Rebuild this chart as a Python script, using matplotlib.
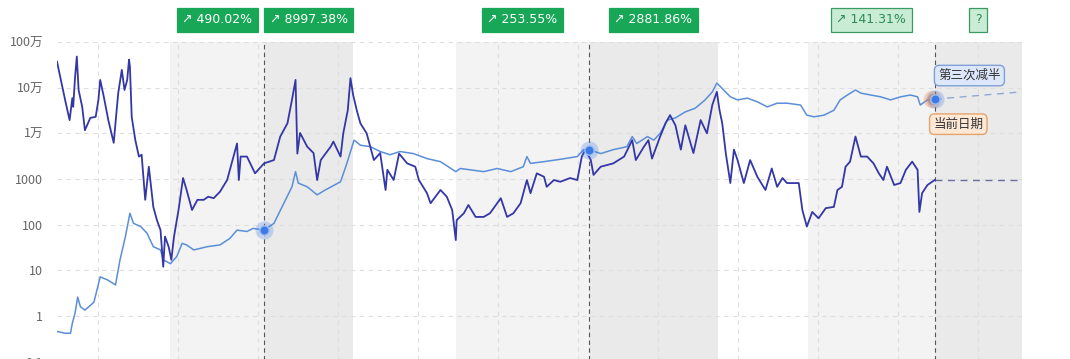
import numpy as np
import matplotlib
matplotlib.use("Agg")
import matplotlib.pyplot as plt
from matplotlib.ticker import FixedLocator

plt.rcParams['font.family'] = ['Noto Sans CJK SC', 'DejaVu Sans']

# ---------------- data ----------------
ratio_years = [2010.61, 2010.70, 2010.75, 2010.78, 2010.79, 2010.81, 2010.83, 2010.85, 2010.89, 2010.92,
               2010.98, 2011.04, 2011.07, 2011.09, 2011.13, 2011.18, 2011.24, 2011.29, 2011.33, 2011.36,
               2011.39, 2011.41, 2011.42, 2011.44, 2011.48, 2011.52, 2011.55, 2011.59, 2011.63, 2011.68,
               2011.72, 2011.76, 2011.79, 2011.81, 2011.85, 2011.88, 2011.91, 2011.96, 2012.01, 2012.05,
               2012.11, 2012.17, 2012.24, 2012.29, 2012.35, 2012.42, 2012.50, 2012.55, 2012.61, 2012.63,
               2012.65, 2012.72, 2012.81, 2012.91, 2013.02, 2013.09, 2013.17, 2013.22, 2013.26, 2013.28,
               2013.31, 2013.39, 2013.46, 2013.50, 2013.54, 2013.65, 2013.68, 2013.76, 2013.79, 2013.84,
               2013.87, 2013.90, 2013.94, 2013.98, 2014.05, 2014.13, 2014.20, 2014.26, 2014.28, 2014.35,
               2014.41, 2014.50, 2014.59, 2014.63, 2014.72, 2014.76, 2014.87, 2014.94, 2015.00, 2015.04,
               2015.05, 2015.13, 2015.18, 2015.26, 2015.35, 2015.42, 2015.54, 2015.61, 2015.68, 2015.76,
               2015.83, 2015.87, 2015.94, 2016.02, 2016.05, 2016.13, 2016.20, 2016.31, 2016.39, 2016.44,
               2016.48, 2016.52, 2016.54, 2016.57, 2016.65, 2016.79, 2016.91, 2017.00, 2017.04, 2017.13,
               2017.18, 2017.22, 2017.31, 2017.37, 2017.42, 2017.48, 2017.54, 2017.59, 2017.68, 2017.76,
               2017.83, 2017.89, 2017.94, 2017.97, 2018.00, 2018.04, 2018.09, 2018.13, 2018.17, 2018.24,
               2018.31, 2018.39, 2018.48, 2018.55, 2018.61, 2018.67, 2018.72, 2018.85, 2018.89, 2018.94,
               2019.00, 2019.07, 2019.15, 2019.24, 2019.28, 2019.33, 2019.37, 2019.42, 2019.48, 2019.54,
               2019.61, 2019.68, 2019.74, 2019.79, 2019.83, 2019.91, 2019.98, 2020.04, 2020.11, 2020.17,
               2020.19, 2020.22, 2020.28, 2020.36]
ratio_values = [370000, 54000, 19500, 59000, 38000, 162000, 480000, 89000, 38000, 11700,
                21800, 23000, 54000, 148000, 63000, 19500, 6200, 76000, 245000, 89000,
                148000, 410000, 290000, 23000, 7100, 3100, 3400, 350, 1860, 245,
                126, 76, 12, 55, 33, 17, 55, 210, 1050, 575,
                210, 350, 350, 410, 380, 525, 950, 2200, 6000, 950,
                3100, 3100, 1330, 2200, 2600, 8500, 16600, 54000, 148000, 3600,
                10200, 5100, 3700, 950, 2600, 5100, 6600, 3100, 10000, 32000,
                162000, 69000, 32000, 16600, 10000, 2600, 3700, 575, 1590, 950,
                3600, 2200, 1860, 950, 490, 295, 575, 410, 210, 46,
                126, 178, 270, 148, 148, 178, 380, 148, 178, 295,
                950, 490, 1330, 1120, 675, 950, 870, 1050, 950, 3100,
                4400, 3100, 2600, 1230, 1860, 2200, 3100, 7100, 2600, 5100,
                7100, 2800, 8500, 16600, 25000, 15000, 4400, 15000, 3700, 19500,
                10000, 42000, 81000, 32000, 16600, 3600, 815, 4400, 2600, 815,
                2600, 1120, 575, 1700, 675, 1050, 815, 815, 210, 91,
                190, 138, 230, 245, 575, 675, 1860, 2400, 8500, 3100,
                3100, 2200, 1330, 950, 1860, 740, 815, 1590, 2400, 1590,
                190, 490, 740, 950]

price_years = [2010.61, 2010.70, 2010.76, 2010.78, 2010.81, 2010.84, 2010.87, 2010.92, 2011.02, 2011.09,
               2011.17, 2011.26, 2011.31, 2011.37, 2011.42, 2011.46, 2011.54, 2011.61, 2011.68, 2011.76,
               2011.79, 2011.87, 2011.94, 2012.00, 2012.05, 2012.13, 2012.28, 2012.42, 2012.53, 2012.61,
               2012.72, 2012.79, 2012.91, 2013.02, 2013.13, 2013.22, 2013.26, 2013.29, 2013.39, 2013.50,
               2013.59, 2013.76, 2013.83, 2013.91, 2013.98, 2014.09, 2014.20, 2014.31, 2014.42, 2014.57,
               2014.72, 2014.87, 2015.04, 2015.09, 2015.20, 2015.35, 2015.50, 2015.65, 2015.79, 2015.83,
               2015.87, 2016.02, 2016.20, 2016.39, 2016.46, 2016.52, 2016.65, 2016.79, 2016.94, 2017.00,
               2017.05, 2017.17, 2017.24, 2017.31, 2017.39, 2017.48, 2017.59, 2017.70, 2017.81, 2017.89,
               2017.94, 2017.98, 2018.09, 2018.17, 2018.28, 2018.39, 2018.50, 2018.61, 2018.72, 2018.87,
               2018.94, 2019.02, 2019.13, 2019.24, 2019.31, 2019.39, 2019.48, 2019.54, 2019.65, 2019.76,
               2019.87, 2019.98, 2020.09, 2020.17, 2020.20, 2020.28, 2020.36]
price_values = [0.46, 0.42, 0.42, 0.69, 1.15, 2.6, 1.6, 1.35, 2.0, 7.2,
                6.2, 4.8, 17, 55, 178, 107, 91, 65, 33, 28,
                17, 14, 20, 39, 36, 28, 33, 36, 50, 76,
                71, 83, 76, 107, 295, 675, 1450, 815, 675, 450,
                575, 870, 2200, 7100, 5500, 5100, 4000, 3400, 4000, 3600,
                2800, 2400, 1450, 1700, 1590, 1450, 1700, 1450, 1860, 3100,
                2200, 2400, 2700, 3100, 4400, 4400, 3600, 4400, 5100, 8500,
                6000, 8500, 7100, 10000, 19500, 21800, 29500, 35500, 54000, 81000,
                126000, 105000, 63000, 54000, 59000, 49000, 38000, 45700, 45700, 41700,
                25000, 23000, 25000, 32000, 54000, 69000, 89000, 76000, 69000, 63000,
                54000, 63000, 69000, 63000, 41700, 54000, 56000]

halving_years = [2012.91, 2016.52, 2020.36]
halving_prices = [76, 4400, 56000]
projection_end_year = 2021.33
projection_price_end = 81000
projection_ratio = 950

pre_periods = [(2011.87, 2012.91), (2015.04, 2016.52), (2018.95, 2020.36)]
post_periods = [(2012.91, 2013.90), (2016.52, 2017.95), (2020.36, 2021.33)]
pre_labels = ["490.02%", "253.55%", "141.31%"]
post_labels = ["8997.38%", "2881.86%", "?"]

ytick_vals = [0.1, 1, 10, 100, 1000, 1e4, 1e5, 1e6]
ytick_labels = ["0.1", "1", "10", "100", "1000", "1万", "10万", "100万"]

# ---------------- figure ----------------
W, H = 1070, 359
fig = plt.figure(figsize=(W / 100, H / 100), dpi=100)
left, right, top, bottom = 57, 1022, 42, 361.7
ax = fig.add_axes([left / W, (H - bottom) / H, (right - left) / W, (bottom - top) / H])
ax.set_yscale('log')
ax.set_ylim(0.1, 1e6)
ax.set_xlim(2010.61, 2021.33)

for s in ax.spines.values():
    s.set_visible(False)

# shading
for a, b in pre_periods:
    ax.axvspan(a, b, color='#f3f3f3', zorder=0, lw=0)
for a, b in post_periods:
    ax.axvspan(a, b, color='#eaeaea', zorder=0, lw=0)

# grids
ax.yaxis.set_major_locator(FixedLocator(ytick_vals))
ax.yaxis.set_minor_locator(FixedLocator([]))
ax.set_yticklabels(ytick_labels)
ax.tick_params(axis='y', length=0, pad=10, labelsize=9, labelcolor='#666666')
ax.tick_params(axis='x', length=0, labelbottom=False)
grid_x = 2011.06 + 0.889 * np.arange(12)
ax.set_xticks(grid_x)
ax.grid(True, which='major', axis='both', color='#dedede', linestyle=(0, (4, 4)), linewidth=0.8, zorder=1)

# halving lines
for hy in halving_years:
    ax.axvline(hy, color='#555555', linestyle=(0, (4, 3)), linewidth=0.8, zorder=2)

# series
ax.plot(price_years, price_values, color='#5b8ed8', lw=1.1, zorder=3)
ax.plot(ratio_years, ratio_values, color='#3437a6', lw=1.3, zorder=4)

# projections
ax.plot([halving_years[-1], projection_end_year], [price_values[-1], projection_price_end],
        color='#8fa8d6', lw=1.0, linestyle=(0, (5, 4)), zorder=3)
ax.plot([halving_years[-1], projection_end_year], [projection_ratio, projection_ratio],
        color='#6a6e9c', lw=1.0, linestyle=(0, (5, 4)), zorder=3)

# halving markers
for i, (hy, hp) in enumerate(zip(halving_years, halving_prices)):
    if i == len(halving_years) - 1:
        ax.scatter([hy - 0.035], [hp], s=160, color='#f08a4b', alpha=0.35, lw=0, zorder=5)
        ax.scatter([hy - 0.02], [hp], s=70, color='#f08a4b', alpha=0.7, lw=0, zorder=5)
    ax.scatter([hy], [hp], s=170, color='#3b7be6', alpha=0.25, lw=0, zorder=6)
    ax.scatter([hy], [hp], s=45, color='#3b7be6', edgecolor='#9fc0f5', lw=1.0, zorder=7)

# percent labels above plot
def period_label(a, b, txt, light):
    xc = (a + b) / 2
    if txt != "?":
        txt = "\u2197 " + txt
    if light:
        bbox = dict(boxstyle='square,pad=0.45', fc='#c9ecd5', ec='#3a9a62', lw=0.9)
        col = '#2f8a57'
    else:
        bbox = dict(boxstyle='square,pad=0.45', fc='#17a756', ec='#17a756', lw=0.9)
        col = 'white'
    ax.annotate(txt, xy=(xc, 1), xycoords=('data', 'axes fraction'),
                xytext=(0, 16), textcoords='offset points', ha='center', va='center',
                fontsize=9, color=col, bbox=bbox, family=['DejaVu Sans'], annotation_clip=False)

period_label(*pre_periods[0], pre_labels[0], False)
period_label(*post_periods[0], post_labels[0], False)
period_label(*pre_periods[1], pre_labels[1], False)
period_label(*post_periods[1], post_labels[1], False)
period_label(*pre_periods[2], pre_labels[2], True)
period_label(*post_periods[2], post_labels[2], True)

# callouts
ax.annotate("第三次减半", xy=(halving_years[-1], price_values[-1]), xytext=(25, 17),
            textcoords='offset points', ha='center', va='center', fontsize=9, color='#333333',
            bbox=dict(boxstyle='round,pad=0.3,rounding_size=0.4', fc='#dce7fb', ec='#7f9fd6', lw=1.0),
            zorder=8)
ax.annotate("当前日期", xy=(halving_years[-1], price_values[-1]), xytext=(17, -18),
            textcoords='offset points', ha='center', va='center', fontsize=9, color='#333333',
            bbox=dict(boxstyle='round,pad=0.3,rounding_size=0.4', fc='#fde8d6', ec='#e4a46a', lw=1.0),
            zorder=8)

fig.savefig("out.png", dpi=100)
